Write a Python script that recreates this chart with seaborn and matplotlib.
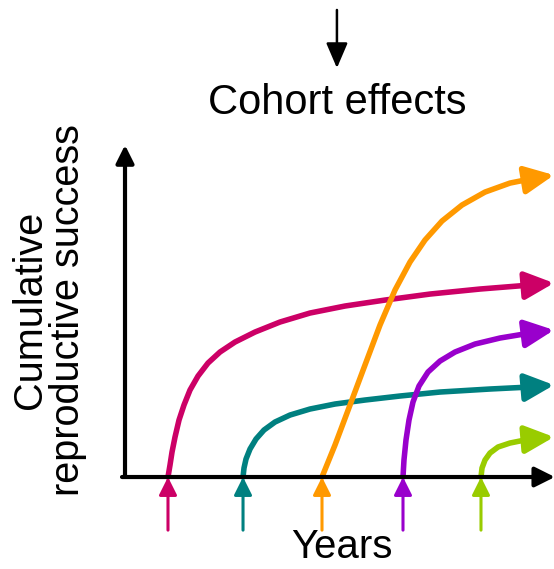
import matplotlib
matplotlib.use("Agg")
import matplotlib.pyplot as plt
import numpy as np
import seaborn as sns
import pandas as pd

sns.set_theme(style="white")
plt.rcParams['font.family'] = ['Liberation Sans', 'DejaVu Sans']
plt.rcParams['text.color'] = 'black'

# cohorts: cumulative reproductive success over years
cohorts = ['c1', 'c2', 'c3', 'c4', 'c5']
colors = ['#CC0066', '#008080', '#FF9900', '#9900CC', '#99CC00']

x_c1 = [1.002, 1.049, 1.096, 1.166, 1.259, 1.375, 1.515, 1.702, 1.935, 2.214,
        2.564, 3.030, 3.613, 4.312, 5.128, 6.061, 7.110, 8.275, 9.441, 10.0]
y_c1 = [0.0, 0.361, 0.753, 1.205, 1.717, 2.169, 2.620, 3.042, 3.434, 3.765,
        4.066, 4.367, 4.669, 4.940, 5.151, 5.331, 5.512, 5.663, 5.783, 5.843]

x_c2 = [2.751, 2.774, 2.821, 2.914, 3.054, 3.240, 3.497, 3.846, 4.312, 4.895,
        5.594, 6.410, 7.343, 8.508, 9.441, 10.0]
y_c2 = [0.0, 0.271, 0.542, 0.843, 1.145, 1.416, 1.657, 1.867, 2.048, 2.199,
        2.319, 2.440, 2.560, 2.651, 2.711, 2.771]

x_c3 = [4.592, 4.895, 5.245, 5.594, 5.944, 6.294, 6.643, 6.993, 7.389, 7.855,
        8.392, 8.974, 9.441, 10.0]
y_c3 = [0.0, 0.964, 2.169, 3.373, 4.578, 5.633, 6.476, 7.139, 7.711, 8.193,
        8.584, 8.855, 8.976, 9.096]

x_c4 = [6.480, 6.503, 6.550, 6.620, 6.713, 6.853, 7.063, 7.343, 7.692, 8.159,
        8.741, 9.441, 10.0]
y_c4 = [0.0, 0.512, 1.114, 1.717, 2.259, 2.741, 3.163, 3.494, 3.765, 4.006,
        4.187, 4.337, 4.428]

x_c5 = [8.298, 8.322, 8.392, 8.508, 8.695, 8.974, 9.441, 10.0]
y_c5 = [0.0, 0.271, 0.512, 0.723, 0.904, 1.024, 1.145, 1.205]

xs = [x_c1, x_c2, x_c3, x_c4, x_c5]
ys = [y_c1, y_c2, y_c3, y_c4, y_c5]

fig = plt.figure(figsize=(5.54, 5.69), dpi=100)
ax = fig.add_axes([0, 0, 1, 1])
ax.set_xlim(-2.914, 10.0)
ax.set_ylim(-2.771, 14.37)
ax.axis('off')

# curves (all but the last segment, which becomes the arrow)
rows = []
for name, x, y in zip(cohorts, xs, ys):
    for xi, yi in zip(x[:-1], y[:-1]):
        rows.append({'cohort': name, 'year': xi, 'rs': yi})
df = pd.DataFrame(rows)
sns.lineplot(data=df, x='year', y='rs', hue='cohort', palette=colors,
             sort=False, estimator=None, lw=4.0, legend=False, ax=ax,
             solid_capstyle='round', solid_joinstyle='round')

for x, y, c in zip(xs, ys, colors):
    # arrow head at the end of each curve
    ax.annotate('', xy=(x[-1], y[-1]), xytext=(x[-2], y[-2]),
                annotation_clip=False,
                arrowprops=dict(arrowstyle='-|>,head_length=0.8,head_width=0.38',
                                color=c, lw=4.0, mutation_scale=22,
                                shrinkA=0, shrinkB=0))
    # cohort start arrow under the axis
    ax.annotate('', xy=(x[0], 0), xytext=(x[0], -1.6),
                annotation_clip=False,
                arrowprops=dict(arrowstyle='-|>,head_length=0.6,head_width=0.3',
                                color=c, lw=2.2, mutation_scale=18,
                                shrinkA=0, shrinkB=0), zorder=5)

# axes
ax.annotate('', xy=(10.02, 0), xytext=(-0.07, 0), annotation_clip=False,
            arrowprops=dict(arrowstyle='-|>,head_length=0.6,head_width=0.3',
                            color='black', lw=3, mutation_scale=20,
                            shrinkA=0, shrinkB=0), zorder=4)
ax.annotate('', xy=(0, 10.0), xytext=(0, 0), annotation_clip=False,
            arrowprops=dict(arrowstyle='-|>,head_length=0.6,head_width=0.3',
                            color='black', lw=3, mutation_scale=18,
                            shrinkA=0, shrinkB=0), zorder=4)

# top arrow
ax.annotate('', xy=(4.94, 12.32), xytext=(4.94, 14.07), annotation_clip=False,
            arrowprops=dict(arrowstyle='-|>,head_length=0.7,head_width=0.3',
                            color='black', lw=1.8, mutation_scale=22,
                            shrinkA=0, shrinkB=0))

ax.text(4.94, 11.27, 'Cohort effects', fontsize=30, ha='center', va='center')
ax.text(-1.78, 5.03, 'Cumulative\nreproductive success', fontsize=28.5,
        ha='center', va='center', rotation=90, linespacing=1.0)
ax.text(5.06, -2.12, 'Years', fontsize=29, ha='center', va='center')

fig.savefig('out.png', dpi=100)
